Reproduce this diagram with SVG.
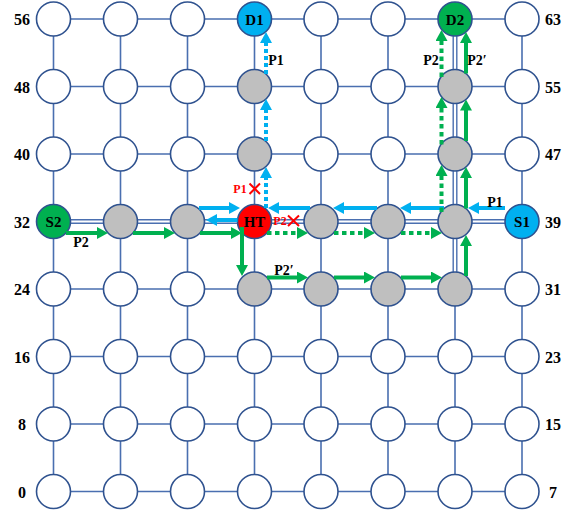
<svg xmlns="http://www.w3.org/2000/svg" width="576" height="512" viewBox="0 0 576 512">
<defs>
<style>
.g{stroke:#4a6fb0;stroke-width:1.6;fill:none}
.dbl{stroke:#4a6fb0;stroke-width:5;fill:none}
.dbw{stroke:#ffffff;stroke-width:2.2;fill:none}
.n{stroke:#2f528f;stroke-width:1.6;fill:#ffffff}
.gray{fill:#bfbfbf}
.nb{fill:#00b0f0}
.ng{fill:#00b050}
.nr{fill:#ff0000}
.t{font-family:"Liberation Serif","Times New Roman",serif;font-weight:bold;font-size:15px;fill:#000;text-anchor:middle}
.lab{font-family:"Liberation Serif","Times New Roman",serif;font-weight:bold;font-size:16px;fill:#000;text-anchor:middle}
.pl{font-family:"Liberation Serif","Times New Roman",serif;font-weight:bold;font-size:14px;fill:#000;text-anchor:middle}
.rl{font-family:"Liberation Serif","Times New Roman",serif;font-weight:bold;font-size:12px;fill:#ff0000;text-anchor:middle}
.bl{stroke:#00b0f0;stroke-width:4;fill:none;marker-end:url(#ab)}
.bd{stroke:#00b0f0;stroke-width:4;fill:none;stroke-dasharray:4 3;marker-end:url(#ab)}
.gl{stroke:#00b050;stroke-width:4;fill:none;marker-end:url(#ag)}
.gd{stroke:#00b050;stroke-width:4;fill:none;stroke-dasharray:4.5 3.5;marker-end:url(#ag)}
.x{stroke:#ff0000;stroke-width:2;fill:none}
</style>
<marker id="ab" markerUnits="userSpaceOnUse" markerWidth="11" markerHeight="12" refX="1" refY="6" orient="auto"><path d="M0,0 L11,6 L0,12 z" fill="#00b0f0"/></marker>
<marker id="ag" markerUnits="userSpaceOnUse" markerWidth="11" markerHeight="12" refX="1" refY="6" orient="auto"><path d="M0,0 L11,6 L0,12 z" fill="#00b050"/></marker>
</defs>
<rect width="576" height="512" fill="#ffffff"/>
<g id="grid">
<path class="g" d="M53.5,19H522M53.5,86.5H522M53.5,154H522M53.5,289H522M53.5,356.5H522M53.5,424H522M53.5,491.5H522"/>
<path class="g" d="M53.5,19V491.5M120.5,19V491.5M187.5,19V491.5M254.5,19V491.5M321,19V491.5M388,19V491.5M522,19V491.5M455,289V491.5"/>
<path class="dbl" d="M53.5,221.5H522M455,19V289"/>
<path class="dbw" d="M53.5,221.5H522M455,19V289"/>
</g>
<g id="labels">
<text class="lab" x="22" y="25">56</text>
<text class="lab" x="22" y="92.5">48</text>
<text class="lab" x="22" y="160">40</text>
<text class="lab" x="22" y="227.5">32</text>
<text class="lab" x="22" y="295">24</text>
<text class="lab" x="22" y="362.5">16</text>
<text class="lab" x="22" y="430">8</text>
<text class="lab" x="22" y="497.5">0</text>
<text class="lab" x="553" y="25">63</text>
<text class="lab" x="553" y="92.5">55</text>
<text class="lab" x="553" y="160">47</text>
<text class="lab" x="553" y="227.5">39</text>
<text class="lab" x="553" y="295">31</text>
<text class="lab" x="553" y="362.5">23</text>
<text class="lab" x="553" y="430">15</text>
<text class="lab" x="553" y="497.5">7</text>
</g>
<g id="nodes">
<g id="n56"><circle class="n" cx="53.5" cy="19" r="17"/></g>
<g id="n57"><circle class="n" cx="120.5" cy="19" r="17"/></g>
<g id="n58"><circle class="n" cx="187.5" cy="19" r="17"/></g>
<g id="n59"><circle class="n nb" cx="254.5" cy="19" r="17"/><text class="t" x="254.5" y="24.5">D1</text></g>
<g id="n60"><circle class="n" cx="321" cy="19" r="17"/></g>
<g id="n61"><circle class="n" cx="388" cy="19" r="17"/></g>
<g id="n62"><circle class="n ng" cx="455" cy="19" r="17"/><text class="t" x="455" y="24.5">D2</text></g>
<g id="n63"><circle class="n" cx="522" cy="19" r="17"/></g>

<g id="n48"><circle class="n" cx="53.5" cy="86.5" r="17"/></g>
<g id="n49"><circle class="n" cx="120.5" cy="86.5" r="17"/></g>
<g id="n50"><circle class="n" cx="187.5" cy="86.5" r="17"/></g>
<g id="n51"><circle class="n gray" cx="254.5" cy="86.5" r="17"/></g>
<g id="n52"><circle class="n" cx="321" cy="86.5" r="17"/></g>
<g id="n53"><circle class="n" cx="388" cy="86.5" r="17"/></g>
<g id="n54"><circle class="n gray" cx="455" cy="86.5" r="17"/></g>
<g id="n55"><circle class="n" cx="522" cy="86.5" r="17"/></g>

<g id="n40"><circle class="n" cx="53.5" cy="154" r="17"/></g>
<g id="n41"><circle class="n" cx="120.5" cy="154" r="17"/></g>
<g id="n42"><circle class="n" cx="187.5" cy="154" r="17"/></g>
<g id="n43"><circle class="n gray" cx="254.5" cy="154" r="17"/></g>
<g id="n44"><circle class="n" cx="321" cy="154" r="17"/></g>
<g id="n45"><circle class="n" cx="388" cy="154" r="17"/></g>
<g id="n46"><circle class="n gray" cx="455" cy="154" r="17"/></g>
<g id="n47"><circle class="n" cx="522" cy="154" r="17"/></g>

<g id="n32"><circle class="n ng" cx="53.5" cy="221.5" r="17"/><text class="t" x="53.5" y="227">S2</text></g>
<g id="n33"><circle class="n gray" cx="120.5" cy="221.5" r="17"/></g>
<g id="n34"><circle class="n gray" cx="187.5" cy="221.5" r="17"/></g>
<g id="n35"><circle class="n nr" cx="254.5" cy="221.5" r="17"/><text class="t" x="254.5" y="227">HT</text></g>
<g id="n36"><circle class="n gray" cx="321" cy="221.5" r="17"/></g>
<g id="n37"><circle class="n gray" cx="388" cy="221.5" r="17"/></g>
<g id="n38"><circle class="n gray" cx="455" cy="221.5" r="17"/></g>
<g id="n39"><circle class="n nb" cx="522" cy="221.5" r="17"/><text class="t" x="522" y="227">S1</text></g>

<g id="n24"><circle class="n" cx="53.5" cy="289" r="17"/></g>
<g id="n25"><circle class="n" cx="120.5" cy="289" r="17"/></g>
<g id="n26"><circle class="n" cx="187.5" cy="289" r="17"/></g>
<g id="n27"><circle class="n gray" cx="254.5" cy="289" r="17"/></g>
<g id="n28"><circle class="n gray" cx="321" cy="289" r="17"/></g>
<g id="n29"><circle class="n gray" cx="388" cy="289" r="17"/></g>
<g id="n30"><circle class="n gray" cx="455" cy="289" r="17"/></g>
<g id="n31"><circle class="n" cx="522" cy="289" r="17"/></g>

<g id="n16"><circle class="n" cx="53.5" cy="356.5" r="17"/></g>
<g id="n17"><circle class="n" cx="120.5" cy="356.5" r="17"/></g>
<g id="n18"><circle class="n" cx="187.5" cy="356.5" r="17"/></g>
<g id="n19"><circle class="n" cx="254.5" cy="356.5" r="17"/></g>
<g id="n20"><circle class="n" cx="321" cy="356.5" r="17"/></g>
<g id="n21"><circle class="n" cx="388" cy="356.5" r="17"/></g>
<g id="n22"><circle class="n" cx="455" cy="356.5" r="17"/></g>
<g id="n23"><circle class="n" cx="522" cy="356.5" r="17"/></g>

<g id="n8"><circle class="n" cx="53.5" cy="424" r="17"/></g>
<g id="n9"><circle class="n" cx="120.5" cy="424" r="17"/></g>
<g id="n10"><circle class="n" cx="187.5" cy="424" r="17"/></g>
<g id="n11"><circle class="n" cx="254.5" cy="424" r="17"/></g>
<g id="n12"><circle class="n" cx="321" cy="424" r="17"/></g>
<g id="n13"><circle class="n" cx="388" cy="424" r="17"/></g>
<g id="n14"><circle class="n" cx="455" cy="424" r="17"/></g>
<g id="n15"><circle class="n" cx="522" cy="424" r="17"/></g>

<g id="n0"><circle class="n" cx="53.5" cy="491.5" r="17"/></g>
<g id="n1"><circle class="n" cx="120.5" cy="491.5" r="17"/></g>
<g id="n2"><circle class="n" cx="187.5" cy="491.5" r="17"/></g>
<g id="n3"><circle class="n" cx="254.5" cy="491.5" r="17"/></g>
<g id="n4"><circle class="n" cx="321" cy="491.5" r="17"/></g>
<g id="n5"><circle class="n" cx="388" cy="491.5" r="17"/></g>
<g id="n6"><circle class="n" cx="455" cy="491.5" r="17"/></g>
<g id="n7"><circle class="n" cx="522" cy="491.5" r="17"/></g>
</g>
<g id="connectors">
<!-- P1 blue -->
<line class="bl" x1="505" y1="208" x2="478" y2="208"/>
<line class="bl" x1="444" y1="208" x2="410" y2="208"/>
<line class="bl" x1="377" y1="208" x2="343" y2="208"/>
<line class="bl" x1="310" y1="208" x2="278" y2="208"/>
<line class="bl" x1="199" y1="208" x2="230" y2="208"/>
<line class="bl" x1="237.5" y1="220" x2="216" y2="220"/>
<line class="bd" x1="266" y1="208" x2="266" y2="177"/>
<line class="bd" x1="266" y1="141" x2="266" y2="109"/>
<line class="bd" x1="266" y1="74" x2="266" y2="42"/>
<!-- P2 green shared -->
<line class="gl" x1="66" y1="233" x2="98" y2="233"/>
<line class="gl" x1="133" y1="233" x2="165" y2="233"/>
<line class="gl" x1="200" y1="233" x2="232" y2="233"/>
<!-- P2 dotted -->
<line class="gd" x1="267" y1="233" x2="298" y2="233"/>
<line class="gd" x1="334" y1="233" x2="365" y2="233"/>
<line class="gd" x1="401" y1="233" x2="432" y2="233"/>
<line class="gd" x1="441.5" y1="212" x2="441.5" y2="175"/>
<line class="gd" x1="441.5" y1="144.5" x2="441.5" y2="107"/>
<line class="gd" x1="441.5" y1="77" x2="441.5" y2="40"/>
<!-- P2' solid -->
<line class="gl" x1="242" y1="227" x2="242" y2="266"/>
<line class="gl" x1="267" y1="277.5" x2="298" y2="277.5"/>
<line class="gl" x1="334" y1="277.5" x2="365" y2="277.5"/>
<line class="gl" x1="401" y1="277.5" x2="432" y2="277.5"/>
<line class="gl" x1="466" y1="276" x2="466" y2="245"/>
<line class="gl" x1="466" y1="208.5" x2="466" y2="177"/>
<line class="gl" x1="466" y1="141" x2="466" y2="109.5"/>
<line class="gl" x1="466" y1="73.5" x2="466" y2="42"/>
</g>
<g id="path-labels">
<text class="pl" x="276" y="65">P1</text>
<text class="pl" x="431" y="65">P2</text>
<text class="pl" x="477" y="65">P2′</text>
<text class="pl" x="495" y="207">P1</text>
<text class="pl" x="81" y="247">P2</text>
<text class="pl" x="284" y="275">P2′</text>
<text class="rl" x="240" y="192.5">P1</text>
<path class="x" d="M249.5,183.5L260,194M260,183.5L249.5,194"/>
<text class="rl" x="280" y="224.5">P2</text>
<path class="x" d="M288,215.5L299,226M299,215.5L288,226"/>
</g>
</svg>
